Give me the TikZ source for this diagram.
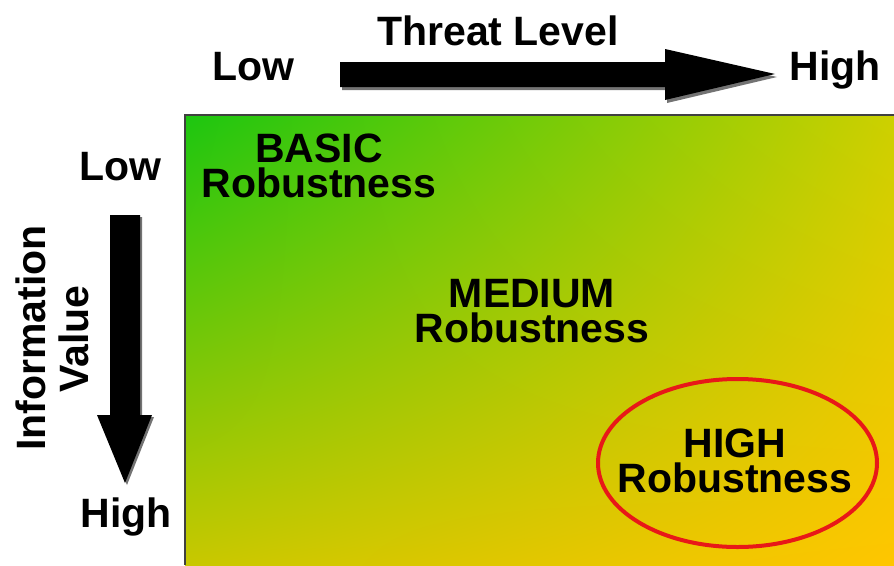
\documentclass[tikz,border=0pt]{standalone}
\usepackage{fontspec}
\setmainfont{Liberation Sans}
\usetikzlibrary{shapes.geometric,shadings}
\definecolor{cTL}{RGB}{28,198,16}
\definecolor{cTR}{RGB}{205,208,0}
\definecolor{cBL}{RGB}{200,200,0}
\definecolor{cBR}{RGB}{255,198,0}
\definecolor{ringred}{RGB}{232,24,24}
\tikzset{
  lbl/.style={font=\bfseries\fontsize{41}{35}\selectfont, inner sep=0pt, text=black},
  zone/.style={lbl, align=center},
  bigarrow/.style={fill=black},
  arrowshadow/.style={fill=black!55},
}
\begin{document}
\begin{tikzpicture}[x=1pt,y=-1pt]
\useasboundingbox (0,0) rectangle (894,565);
% gradient field
\shade[upper left=cTL, upper right=cTR, lower left=cBL, lower right=cBR] (185,115) rectangle (894,565);
\draw[black!75, line width=1.5pt] (185,565) -- (185,115) -- (894,115);
% top arrow
\fill[arrowshadow] (342,65) -- (667,65) -- (667,52) -- (777,77) -- (667,103) -- (667,90) -- (342,90) -- cycle;
\fill[bigarrow] (340,62) -- (665,62) -- (665,49) -- (775,74) -- (665,100) -- (665,87) -- (340,87) -- cycle;
% left arrow
\fill[arrowshadow] (112,217) -- (142,217) -- (142,417) -- (154,417) -- (127,485) -- (99,417) -- (112,417) -- cycle;
\fill[bigarrow] (110,215) -- (140,215) -- (140,415) -- (152,415) -- (125,483) -- (97,415) -- (110,415) -- cycle;
% axis labels
\node[lbl, anchor=base] (threat) at (498,45) {Threat Level};
\node[lbl, anchor=base] (tlow) at (253,80) {Low};
\node[lbl, anchor=base] (thigh) at (835,80) {High};
\node[lbl, anchor=base] (vlow) at (120,180) {Low};
\node[lbl, anchor=base] (vhigh) at (126,527) {High};
\node[lbl, anchor=base, rotate=90] (info) at (45,338) {Information};
\node[lbl, anchor=base, rotate=90] (value) at (88,339) {Value};
% zones
\node[zone] (basic) at (319,165.5) {BASIC\\Robustness};
\node[zone] (medium) at (532,311.5) {MEDIUM\\Robustness};
\node[zone] (high) at (735,460.5) {HIGH\\Robustness};
\draw[ringred, line width=4pt] (737.5,463) ellipse [x radius=139.5, y radius=84];
\end{tikzpicture}
\end{document}
